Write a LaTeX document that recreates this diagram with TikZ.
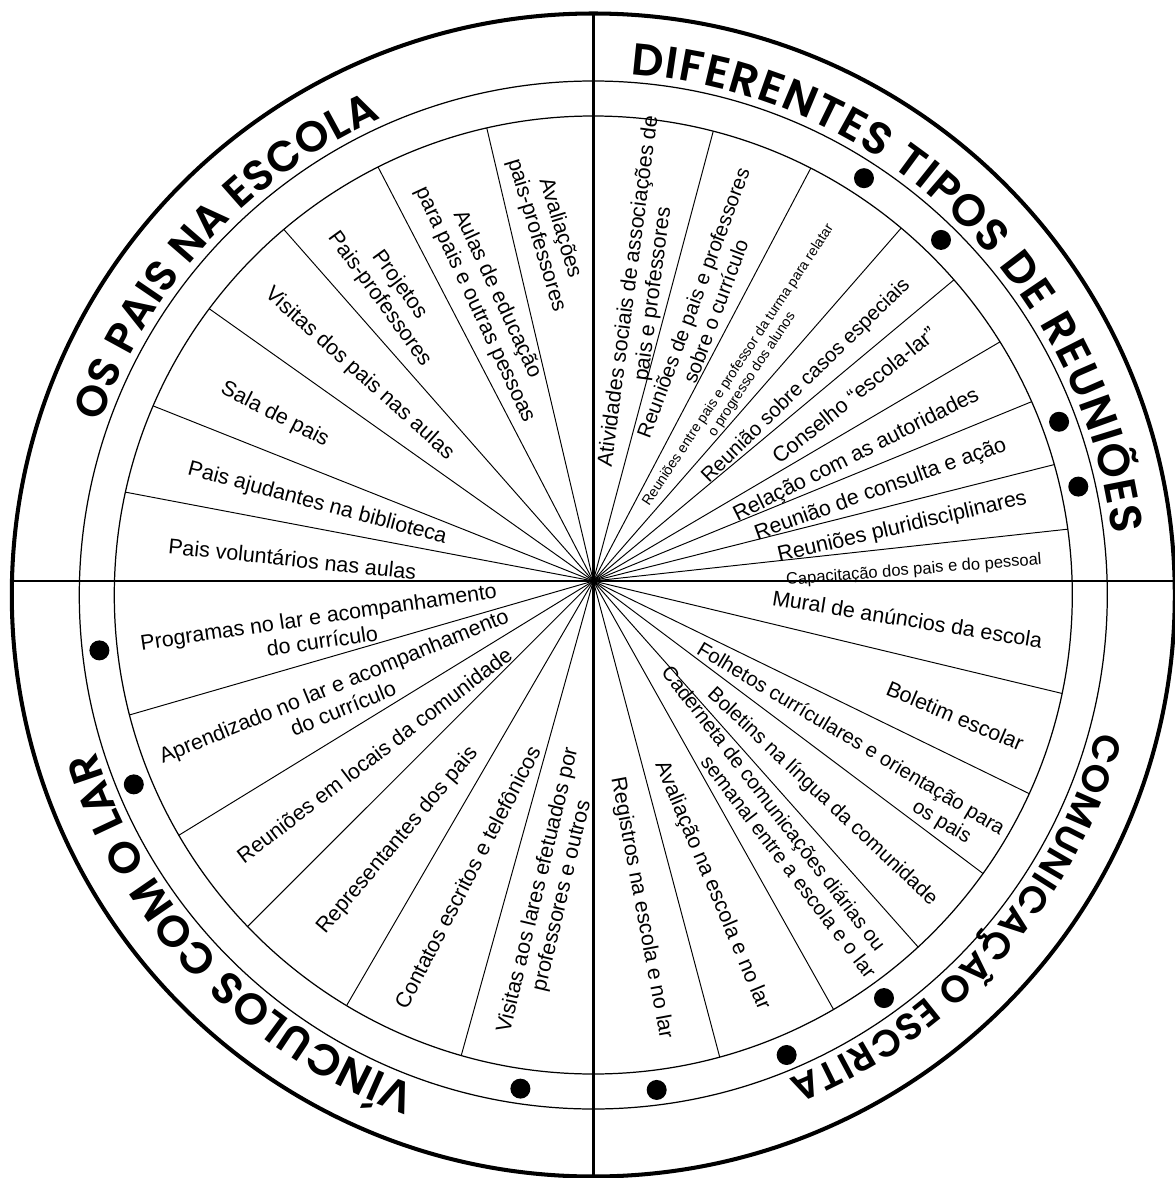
\documentclass[tikz,border=0pt]{standalone}
\usepackage{fontspec}
\setmainfont{Liberation Sans}
\newfontfamily\titlefont{Poppins}[BoldFont={* SemiBold}]
\usetikzlibrary{decorations.text}

\begin{document}
\begin{tikzpicture}[x=0.02cm, y=0.02cm,
    ring/.style={line width=0.7pt},
    spoke/.style={line width=0.55pt},
    quad/.style={line width=1.4pt},
    lbl/.style={font=\fontsize{12.2}{14}\selectfont, align=center, inner sep=0pt},
    mid/.style={lbl, font=\fontsize{11.6}{13.6}\selectfont},
    small/.style={lbl, font=\fontsize{9.4}{11}\selectfont},
    tiny/.style={lbl, font=\fontsize{8}{9.4}\selectfont},
    title/.style 2 args={decorate, decoration={text along path, text align=fit to path,
        text={|\titlefont\fontsize{#2}{#2}\selectfont\bfseries|#1}}}
]
\useasboundingbox (-593.3,-583) rectangle (581.7,595);
\coordinate (c) at (0,0);
\coordinate (hub) at (0,14);

\draw[line width=2.3pt] (c) circle[radius=581.5];
\draw[ring] (c) circle[radius=514];
\draw[ring] (c) circle[radius=479];
\foreach \a in {102.85,116.7,130.25,143.3,156.75,167.6,
                75.5,63,50,41.15,31.9,23.8,15.8,7.9,
                -11.86,-24.5,-35.55,-47.3,-59.9,-74.7,
                194.5,210.1,223.8,239,254}
    \draw[spoke] (hub) -- (\a:479);
\draw[quad] (-581.3,14) -- (581.3,14);
\draw[quad] (0,-581.5) -- (0,581.5);

\foreach \a/\r in {57/497,45.6/497,20.4/497,12.6/497,
                   186.4/497,202.4/497,261.6/499,
                   -82.7/499,-67.2/499,-54.2/497}
    \fill (\a:\r) circle[radius=10];

\path[title={OS PAIS NA ESCOLA}{24.5}] (160.7:522) arc[start angle=160.7, end angle=114, radius=522];
\path[title={DIFERENTES TIPOS DE REUNIÕES}{25.5}] (85.9:522) arc[start angle=85.9, end angle=6.7, radius=522];
\path[title={COMUNICAÇÃO ESCRITA}{21.5}] (-15.2:522) arc[start angle=-15.2, end angle=-68, radius=522];
\path[title={VÍNCULOS COM O LAR}{25}] (250.2:522) arc[start angle=250.2, end angle=197.4, radius=522];

\node[lbl, rotate=-6] (pvol) at (-300.9,36.1) {Pais voluntários nas aulas};
\node[lbl, rotate=-15] (paju) at (-276,91.2) {Pais ajudantes na biblioteca};
\node[lbl, rotate=-27] (sala) at (-318.5,180.2) {Sala de pais};
\node[lbl, rotate=-42] (vaul) at (-234,221.2) {Visitas dos pais nas aulas};
\node[lbl, rotate=-54] (proj) at (-204,303) {Projetos\\Pais-professores};
\node[lbl, rotate=-65] (aedu) at (-107.4,295.5) {Aulas de educação\\para pais e outras pessoas};
\node[lbl, rotate=-73] (aval) at (-45.3,363.3) {Avaliações\\pais-professores};

\node[lbl, rotate=82.5] (ativ) at (48,302.2) {Atividades sociais de associações de\\pais e professores};
\node[mid, rotate=69.5] (rcur) at (111,288) {Reuniões de pais e professores\\sobre o currículo};
\node[tiny, rotate=56.5] (rtur) at (152,225) {Reuniões entre pais e professor da turma para relatar\\o progresso dos alunos};
\node[mid, rotate=44.4] (rcas) at (213,214) {Reunião sobre casos especiais};
\node[lbl, rotate=38.9] (cons) at (260.7,200) {Conselho “escola-lar”};
\node[lbl, rotate=26.7] (raut) at (263.2,139.6) {Relação com as autoridades};
\node[lbl, rotate=19.8] (rcon) at (287.4,105.1) {Reunião de consulta e ação};
\node[lbl, rotate=13.2] (rplu) at (309,67.6) {Reuniões pluridisciplinares};
\node[small, rotate=4.6] (capa) at (320.6,24.5) {Capacitação dos pais e do pessoal};

\node[lbl, rotate=-9.1] (mura) at (314.2,-24) {Mural de anúncios da escola};
\node[lbl, rotate=-23] (bole) at (361.9,-120.7) {Boletim escolar};
\node[mid, rotate=-31, align=right] (folh) at (251,-155) {Folhetos currículares e orientação para\\os pais\hspace*{1.2em}};
\node[mid, rotate=-43.2] (blin) at (229,-202) {Boletins na língua da comunidade};
\node[mid, rotate=-52.5, align=left] (cade) at (176,-226.4) {Caderneta de comunicações diárias ou\\\hspace*{4.7em}semanal entre a escola e o lar};
\node[lbl, rotate=-67.2] (aesc) at (118.7,-291) {Avaliação na escola e no lar};
\node[lbl, rotate=-79.4] (regi) at (48,-313) {Registros na escola e no lar};

\node[lbl, rotate=8.4] (prog) at (-273,-33.7) {Programas no lar e acompanhamento\\do currículo};
\node[lbl, rotate=22.3] (apre) at (-255,-102) {Aprendizado no lar e acompanhamento\\do currículo};
\node[lbl, rotate=37.4] (rloc) at (-219,-160) {Reuniões em locais da comunidade};
\node[lbl, rotate=49.8] (repr) at (-195.7,-245.7) {Representantes dos pais};
\node[lbl, rotate=62.6] (cont) at (-126,-282) {Contatos escritos e telefônicos};
\node[lbl, rotate=76.6] (vlar) at (-43,-298) {Visitas aos lares efetuados por\\professores e outros};
\end{tikzpicture}
\end{document}
